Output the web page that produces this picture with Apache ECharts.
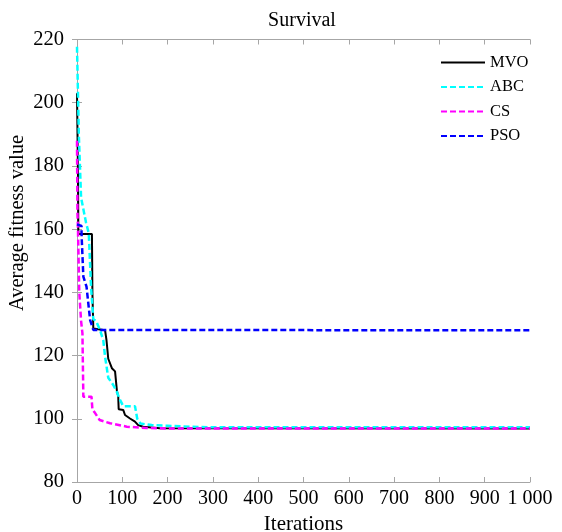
<!DOCTYPE html>
<html>
<head>
<meta charset="utf-8">
<script src="https://cdn.jsdelivr.net/npm/echarts@6/dist/echarts.min.js"></script>
<style>
  html, body { margin: 0; padding: 0; background: #fff; }
  #chart { width: 562px; height: 532px; }
</style>
</head>
<body>
<div id="chart"></div>
<script>
// Convergence curves: average fitness per iteration for each optimizer
const mvoIter = [0, 2, 3, 33, 34, 36, 62, 65, 69, 77, 84, 88, 91, 92, 102, 106, 117, 128, 135, 146, 183, 1000];
const mvoFit  = [203, 180, 158.5, 158.5, 140, 128.6, 128, 125, 119, 116, 115, 109, 107, 103, 102.8, 101.2, 100.1, 99.1, 98, 97.5, 97.0, 96.9];

const abcIter = [0, 4, 9, 20, 26, 31, 36, 42, 51, 58, 62, 69, 80, 88, 95, 102, 128, 133, 140, 165, 200, 250, 300, 1000];
const abcFit  = [217.7, 190, 170, 162, 158.7, 141.8, 131.5, 131, 128, 124.9, 119.6, 113, 110.7, 108.5, 106, 104, 104, 100, 98.5, 98, 97.8, 97.5, 97.3, 97.3];

const csIter = [0, 1, 2, 5, 9, 12, 14, 32, 34, 40, 50, 73, 110, 153, 200, 1000];
const csFit  = [188, 165, 161, 140, 131, 127, 107, 107, 103, 101.8, 99.6, 98.6, 97.5, 97.1, 96.9, 96.9];

const psoIter = [0, 10, 10, 14, 21, 29, 36, 1000];
const psoFit  = [161.5, 161, 158.5, 145, 141.8, 131.2, 128.1, 128];

const seriesNames = ['MVO', 'ABC', 'CS', 'PSO'];
const seriesColors = ['#000000', '#00ffff', '#ff00ff', '#0000ff'];

const xTicks = { min: 0, max: 1000, interval: 100 };
const yTicks = { min: 80, max: 220, interval: 20 };

function pairs(xs, ys) { return xs.map((x, i) => [x, ys[i]]); }

const FONT = '"Liberation Serif", "Times New Roman", serif';
const axisGrey = '#a6a6a6';

const chart = echarts.init(document.getElementById('chart'), null, { renderer: 'canvas' });

function baseAxis(extra) {
  return Object.assign({
    type: 'value',
    axisLine: { show: true, lineStyle: { color: axisGrey, width: 1 } },
    axisTick: { show: true, inside: true, length: 5, lineStyle: { color: axisGrey } },
    splitLine: { show: false }
  }, extra);
}

const allData = [pairs(mvoIter, mvoFit), pairs(abcIter, abcFit), pairs(csIter, csFit), pairs(psoIter, psoFit)];

chart.setOption({
  animation: false,
  backgroundColor: '#fff',
  title: {
    text: 'Survival',
    left: 297, top: 6, textAlign: 'center',
    textStyle: { fontFamily: FONT, fontSize: 20, fontWeight: 'normal', color: '#000' }
  },
  grid: { left: 77, right: 32, top: 39.5, bottom: 50, containLabel: false, outerBoundsMode: 'none' },
  legend: {
    orient: 'vertical',
    left: 435, top: 49,
    itemWidth: 44, itemHeight: 14, itemGap: 7.5,
    itemStyle: { opacity: 0 },
    textStyle: { fontFamily: FONT, fontSize: 16.5, color: '#000' },
    data: seriesNames
  },
  // vertical y-axis title, placed a little above the plot's middle
  graphic: [{
    type: 'text',
    x: 18, y: 223,
    rotation: Math.PI / 2,
    style: {
      text: 'Average fitness value',
      fontFamily: FONT, fontSize: 20.5, fill: '#000',
      align: 'center', verticalAlign: 'middle'
    }
  }],
  xAxis: [
    baseAxis(Object.assign({}, xTicks, {
      position: 'bottom',
      name: 'Iterations', nameLocation: 'middle', nameGap: 31,
      nameTextStyle: { fontFamily: FONT, fontSize: 21, color: '#000' },
      axisLabel: {
        fontFamily: FONT, fontSize: 20, color: '#000', margin: 7,
        formatter: v => v >= 1000 ? '1 000' : String(v)
      }
    })),
    baseAxis(Object.assign({}, xTicks, { position: 'top', axisLabel: { show: false } }))
  ],
  yAxis: [
    baseAxis(Object.assign({}, yTicks, {
      position: 'left',
      axisLabel: { fontFamily: FONT, fontSize: 20.5, color: '#000', margin: 13 }
    })),
    baseAxis(Object.assign({}, yTicks, { position: 'right', axisLabel: { show: false } }))
  ],
  series: seriesNames.map((name, i) => ({
    name: name,
    type: 'line',
    xAxisIndex: 0, yAxisIndex: 0,
    data: allData[i],
    symbol: 'none',
    color: seriesColors[i],
    lineStyle: {
      color: seriesColors[i],
      width: i === 0 ? 2 : 2.5,
      type: i === 0 ? 'solid' : [6, 3]
    }
  }))
});
</script>
</body>
</html>
